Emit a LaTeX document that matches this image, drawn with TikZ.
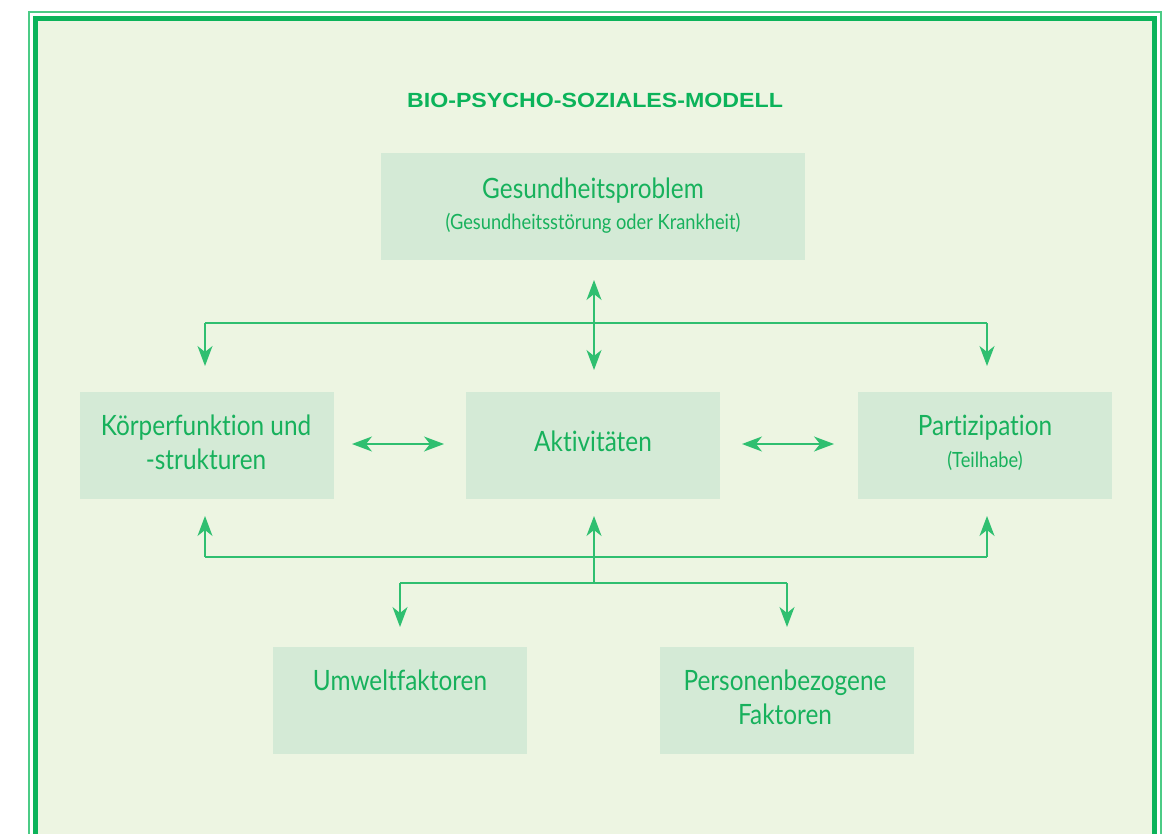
\documentclass[tikz,border=0pt]{standalone}
\usepackage{fontspec}
\setmainfont{Liberation Sans}
\newfontfamily\titlefont[FakeStretch=1.13]{Liberation Sans}
\newfontfamily\cond[FakeStretch=0.87,Ligatures=NoCommon]{Lato}
\usetikzlibrary{arrows.meta}
\definecolor{gdark}{HTML}{0BB35A}
\definecolor{glight}{HTML}{4CCB86}
\definecolor{bgfill}{HTML}{EDF5E2}
\definecolor{boxfill}{HTML}{D4EAD6}
\definecolor{txtg}{HTML}{17B15C}
\definecolor{lineg}{HTML}{2FBF70}
\tikzset{
  box/.style={fill=boxfill, draw=none, minimum width=254pt, minimum height=107pt, inner sep=0pt, anchor=north west},
  big/.style={text=txtg, font=\cond\fontsize{28}{34}\selectfont, align=center, inner sep=0pt},
  small/.style={text=txtg, font=\cond\fontsize{21}{24}\selectfont, align=center, inner sep=0pt},
  conn/.style={draw=lineg, line width=1.4pt},
  tip/.style={-{Stealth[length=20pt,width=15pt,inset=6pt]}, draw=lineg, line width=1.4pt},
  dtip/.style={{Stealth[length=20pt,width=15pt,inset=6pt]}-{Stealth[length=20pt,width=15pt,inset=6pt]}, draw=lineg, line width=1.4pt}
}
\begin{document}
\begin{tikzpicture}[x=1pt,y=-1pt]
\useasboundingbox (0,0) rectangle (1167,834);
\fill[white] (0,0) rectangle (1167,834);
% frame
\draw[glight, line width=2pt] (29,840) -- (29,12) -- (1160.5,12) -- (1160.5,840);
\fill[bgfill] (36,19) rectangle (1154.5,840);
\draw[gdark, line width=5.5pt] (35.5,840) -- (35.5,18.5) -- (1154.5,18.5) -- (1154.5,840);
% title
\node[text=gdark, font=\titlefont\bfseries\fontsize{20.5}{24}\selectfont, inner sep=0pt] (title) at (595,100) {BIO-PSYCHO-SOZIALES-MODELL};
% boxes
\node[box, minimum width=424pt] (ges) at (381,153) {};
\node[box] (koe) at (80,392) {};
\node[box] (akt) at (466,392) {};
\node[box] (par) at (858,392) {};
\node[box] (umw) at (273,647) {};
\node[box] (per) at (660,647) {};
% texts
\node[big] (gesT) at (593,191) {Gesundheitsproblem};
\node[small] (gesS) at (593,223) {(Gesundheitsstörung oder Krankheit)};
\node[big] (koeT) at (206,442) {Körperfunktion und\\-strukturen};
\node[big] (aktT) at (593,441) {Aktivitäten};
\node[big] (parT) at (985,428) {Partizipation};
\node[small] (parS) at (985,461) {(Teilhabe)};
\node[big] (umwT) at (400,680) {Umweltfaktoren};
\node[big] (perT) at (785,697) {Personenbezogene\\Faktoren};
% connector coordinates
\coordinate (tA) at (594,280);
\coordinate (tB) at (594,370);
\coordinate (tL) at (205,323);
\coordinate (tR) at (987,323);
\coordinate (tLe) at (205,366);
\coordinate (tRe) at (987,366);
\coordinate (mL1) at (352,444);
\coordinate (mL2) at (444,444);
\coordinate (mR1) at (742,444);
\coordinate (mR2) at (834,444);
\coordinate (bL) at (205,557);
\coordinate (bR) at (987,557);
\coordinate (bLe) at (205,516);
\coordinate (bRe) at (987,516);
\coordinate (bC) at (594,583);
\coordinate (bCe) at (594,516);
\coordinate (bl) at (400,583);
\coordinate (br) at (787,583);
\coordinate (ble) at (400,627);
\coordinate (bre) at (787,627);
% top connectors
\draw[conn] (tL) -- (tR);
\draw[dtip] (tA) -- (tB);
\draw[tip] (tL) -- (tLe);
\draw[tip] (tR) -- (tRe);
% middle
\draw[dtip] (mL1) -- (mL2);
\draw[dtip] (mR1) -- (mR2);
% bottom
\draw[conn] (bL) -- (bR);
\draw[tip] (bL) -- (bLe);
\draw[tip] (bR) -- (bRe);
\draw[tip] (bC) -- (bCe);
\draw[conn] (bl) -- (br);
\draw[tip] (bl) -- (ble);
\draw[tip] (br) -- (bre);
\end{tikzpicture}
\end{document}
